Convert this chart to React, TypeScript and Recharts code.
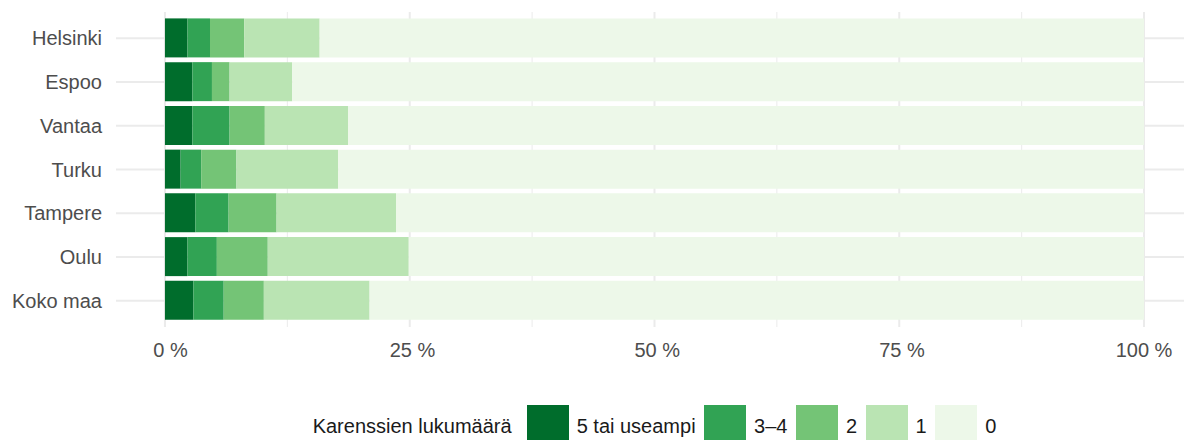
import React from 'react';
import { BarChart, Bar, XAxis, YAxis, CartesianGrid, Legend } from 'recharts';

const cities = ['Helsinki', 'Espoo', 'Vantaa', 'Turku', 'Tampere', 'Oulu', 'Koko maa'];
const fivePlus = [2.3, 2.8, 2.8, 1.6, 3.1, 2.3, 2.9];
const threeFour = [2.3, 2.0, 3.8, 2.1, 3.4, 3.0, 3.1];
const two = [3.5, 1.8, 3.6, 3.6, 4.9, 5.2, 4.1];
const one = [7.7, 6.4, 8.5, 10.4, 12.2, 14.4, 10.8];
const zero = [84.2, 87.0, 81.3, 82.3, 76.4, 75.1, 79.1];

const seriesNames = ['5 tai useampi', '3–4', '2', '1', '0'];
const seriesColors = ['#006D2C', '#31A354', '#74C476', '#BAE4B3', '#EDF8E9'];
const majorTicks = [0, 25, 50, 75, 100];
const minorTicks = [12.5, 37.5, 62.5, 87.5];
const legendTitle = 'Karenssien lukumäärä';

const FONT = '"Liberation Sans", Arial, sans-serif';
const GRID = '#EBEBEB';

const seriesValues = [fivePlus, threeFour, two, one, zero];
const data = cities.map((name, i) => {
  const row: Record<string, string | number> = { name };
  seriesValues.forEach((vals, s) => { row[`s${s}`] = vals[i]; });
  return row;
});

// labels are padded to equal width like in the original, so the short ones sit a bit right
const pctLabel = (v: number) => `${v} %`.padStart(5, '\u00A0');

const LegendBox = () => (
  <div style={{ display: 'flex', alignItems: 'center', justifyContent: 'center', fontFamily: FONT, fontSize: 20, color: '#1A1A1A' }}>
    <span style={{ marginRight: 15 }}>{legendTitle}</span>
    {seriesNames.map((n, i) => (
      <span key={n} style={{ display: 'flex', alignItems: 'center', marginRight: i < seriesNames.length - 1 ? 8.5 : 0 }}>
        <span style={{ width: 42, height: 42, background: seriesColors[i], display: 'inline-block' }} />
        <span style={{ marginLeft: 8 }}>{n}</span>
      </span>
    ))}
  </div>
);

export default function App() {
  return (
    <div style={{ position: 'absolute', left: 0, top: 0, width: 1184, height: 440, overflow: 'hidden', background: '#fff' }}>
      <BarChart width={1193} height={440} data={data} layout="vertical" margin={{ top: 12, right: 0, bottom: 0, left: 0 }}>
        <CartesianGrid stroke={GRID} strokeWidth={2} syncWithTicks />
        <CartesianGrid xAxisId="minor" stroke={GRID} strokeWidth={1} horizontal={false} syncWithTicks />
        <XAxis type="number" domain={[-5, 105]} ticks={majorTicks} tickFormatter={pctLabel}
          axisLine={false} tickLine={false} tickSize={0} tickMargin={16} height={113}
          tick={{ fill: '#4D4D4D', fontSize: 20, fontFamily: FONT }} allowDataOverflow />
        <XAxis xAxisId="minor" type="number" domain={[-5, 105]} ticks={minorTicks} hide allowDataOverflow />
        <YAxis type="category" dataKey="name" width={116} axisLine={false} tickLine={false} tickSize={0} tickMargin={14}
          padding={{ top: 4.4, bottom: 4.4 }} interval={0}
          tick={{ fill: '#4D4D4D', fontSize: 20, fontFamily: FONT }} />
        <Legend layout="horizontal" verticalAlign="middle" align="center" content={<LegendBox />}
          wrapperStyle={{ top: 405, left: 116, width: 1077, height: 42 }} />
        {seriesNames.map((n, i) => (
          <Bar key={n} dataKey={`s${i}`} name={n} stackId="a" fill={seriesColors[i]} barSize={39} isAnimationActive={false} />
        ))}
      </BarChart>
    </div>
  );
}
